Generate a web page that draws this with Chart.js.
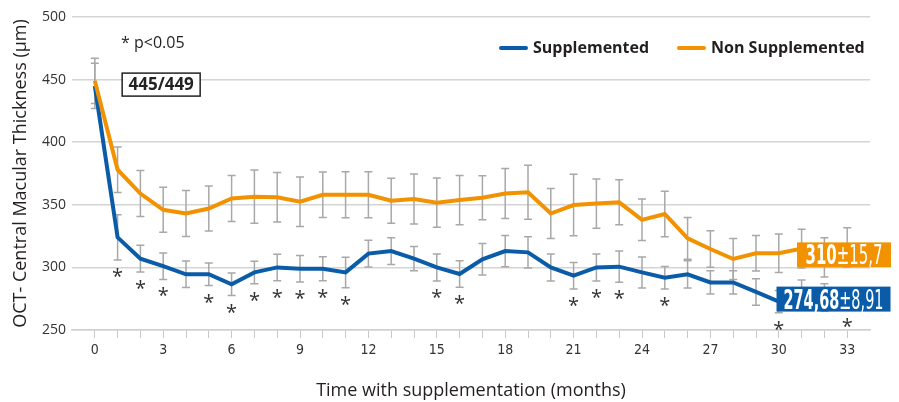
<!DOCTYPE html>
<html>
<head>
<meta charset="utf-8">
<script src="https://cdn.jsdelivr.net/npm/chart.js@4.4.0/dist/chart.umd.min.js"></script>
<style>
  html, body { margin: 0; padding: 0; background: #fff; }
</style>
</head>
<body>
<canvas id="graficoEspessura" width="899" height="402"></canvas>
<script>
// dados
const meses = [0,1,2,3,4,5,6,7,8,9,10,11,12,13,14,15,16,17,18,19,20,21,22,23,24,25,26,27,28,29,30,31,32,33];
const rotulosX = [0,3,6,9,12,15,18,21,24,27,30,33];

const suplementado = [445,324,307,301,294.5,294.5,286.5,296,300,299,299,296,311,313,307,300,294.7,306.5,313,312,300,293.4,300,300.6,296,291.8,294.5,288,288,280.4,272.6,279,276,274.68];
const erroSuplementado = [18,18,10.6,10.6,10.6,9,9,9,10.6,10.6,9.6,12.2,10.6,10.6,9.6,10.8,10.6,12.5,12.5,12.4,10.8,10.6,10.8,12.4,12.4,9,10.9,9.3,9.3,10.6,8.9,11,11,8.91];

const naoSuplementado = [449,378,359,346,343,347,355,356.5,356,352.5,358,358,358,353.3,354.6,351.7,353.8,355.7,359,360,343,349.8,351,352,338,342.7,323.2,314.7,306.7,311.3,311.3,315,308,316];
const erroNaoSuplementado = [18,18.2,18.4,18,18.4,18,18.4,21.3,19.7,19.8,18.2,18.4,18.4,18,20,19.7,19.7,17.6,20,21.6,20,24.6,19.7,18,16.6,18.2,16.6,14.5,16.3,14.1,15.4,15.5,15.6,15.7];

// meses com p<0.05
const mesesSignificativos = [1,2,3,5,6,7,8,9,10,11,15,16,21,22,23,25,30,33];

const azul = '#0a5ca8';
const laranja = '#f39200';
const fonte = '"Open Sans", "Noto Sans", sans-serif';
const fonteEstreita = '"DejaVu Sans Condensed", "Liberation Sans Narrow", "Open Sans", sans-serif';

function larguraTexto(ctx, partes) {
  let w = 0;
  partes.forEach(p => { ctx.font = p.font; w += ctx.measureText(p.t).width; });
  return w;
}

// desenha o texto comprimido na horizontal ate caber na largura pedida
function textoCondensado(ctx, partes, x, y, largura) {
  const fator = largura / larguraTexto(ctx, partes);
  let pos = 0;
  ctx.save();
  ctx.translate(x, y);
  ctx.scale(fator, 1);
  partes.forEach(p => {
    ctx.font = p.font;
    ctx.fillText(p.t, pos, 0);
    pos += ctx.measureText(p.t).width;
  });
  ctx.restore();
}

const extras = {
  id: 'extras',
  beforeDatasetsDraw(chart) {
    const { ctx, scales: { x, y } } = chart;
    ctx.save();
    ctx.strokeStyle = '#a8a8a8';
    ctx.lineWidth = 1.5;
    [[suplementado, erroSuplementado], [naoSuplementado, erroNaoSuplementado]].forEach(([valores, erros]) => {
      meses.forEach((m, i) => {
        const px = x.getPixelForValue(m);
        const topo = y.getPixelForValue(valores[i] + erros[i]);
        const base = y.getPixelForValue(valores[i] - erros[i]);
        ctx.beginPath();
        ctx.moveTo(px, topo); ctx.lineTo(px, base);
        ctx.moveTo(px - 4, topo); ctx.lineTo(px + 4, topo);
        ctx.moveTo(px - 4, base); ctx.lineTo(px + 4, base);
        ctx.stroke();
      });
    });
    ctx.restore();
  },
  afterDraw(chart) {
    const { ctx, scales: { x, y } } = chart;
    ctx.save();

    // asteriscos
    ctx.fillStyle = '#333';
    ctx.font = '20px ' + fonte;
    ctx.textAlign = 'center';
    ctx.textBaseline = 'alphabetic';
    mesesSignificativos.forEach(m => {
      const i = meses.indexOf(m);
      const px = x.getPixelForValue(m);
      const py = y.getPixelForValue(suplementado[i] - erroSuplementado[i]);
      ctx.fillText('*', px, py + 23);
    });

    // nota p<0.05
    ctx.textAlign = 'left';
    ctx.textBaseline = 'middle';
    ctx.fillStyle = '#231f20';
    ctx.font = '16px ' + fonte;
    ctx.fillText('* p<0.05', 121, 43);

    // legenda
    ctx.lineCap = 'round';
    ctx.lineWidth = 4;
    ctx.strokeStyle = azul;
    ctx.beginPath(); ctx.moveTo(501, 48); ctx.lineTo(526, 48); ctx.stroke();
    ctx.strokeStyle = laranja;
    ctx.beginPath(); ctx.moveTo(679, 48); ctx.lineTo(704, 48); ctx.stroke();
    ctx.font = 'bold 16px ' + fonte;
    ctx.fillStyle = '#231f20';
    ctx.fillText('Supplemented', 533, 48);
    ctx.fillText('Non Supplemented', 711, 48);

    // caixa 445/449
    const bx = x.getPixelForValue(1.2);
    const by = y.getPixelForValue(446);
    ctx.lineWidth = 1.5;
    ctx.strokeStyle = '#222';
    ctx.fillStyle = '#fff';
    ctx.fillRect(bx, by - 11.5, 78, 23);
    ctx.strokeRect(bx, by - 11.5, 78, 23);
    ctx.fillStyle = '#222';
    ctx.font = 'bold 17px ' + fonte;
    ctx.textAlign = 'center';
    ctx.fillText('445/449', bx + 39, by + 1);

    // caixas dos valores finais
    const caixas = [
      { cor: laranja, mes: 30.8, valor: 310, largura: 77, folga: 8.5, partes: [
        { t: '310', font: 'bold 26px ' + fonteEstreita },
        { t: '±15,7', font: '26px ' + fonteEstreita }] },
      { cor: azul, mes: 29.9, valor: 274.68, largura: 100, folga: 7, partes: [
        { t: '274,68', font: 'bold 26px ' + fonteEstreita },
        { t: '±8,91', font: '26px ' + fonteEstreita }] }
    ];
    ctx.textAlign = 'left';
    ctx.textBaseline = 'alphabetic';
    caixas.forEach(c => {
      const cx = x.getPixelForValue(c.mes);
      const cy = y.getPixelForValue(c.valor);
      ctx.fillStyle = c.cor;
      ctx.fillRect(cx, cy - 12.5, c.largura + 2 * c.folga, 25);
      ctx.fillStyle = '#fff';
      textoCondensado(ctx, c.partes, cx + c.folga, cy + 9.5, c.largura);
    });

    ctx.restore();
  }
};

new Chart(document.getElementById('graficoEspessura'), {
  type: 'line',
  data: {
    datasets: [{
      label: 'Supplemented',
      data: meses.map((m, i) => ({ x: m, y: suplementado[i] })),
      borderColor: azul,
      borderWidth: 4,
      pointRadius: 0,
      tension: 0,
      order: 2
    }, {
      label: 'Non Supplemented',
      data: meses.map((m, i) => ({ x: m, y: naoSuplementado[i] })),
      borderColor: laranja,
      borderWidth: 4,
      pointRadius: 0,
      tension: 0,
      order: 1
    }]
  },
  options: {
    responsive: false,
    animation: false,
    layout: { padding: { top: 17, right: 29, left: 0, bottom: 0 } },
    plugins: {
      legend: { display: false },
      tooltip: { enabled: false }
    },
    scales: {
      x: {
        type: 'linear',
        min: -1,
        max: 34,
        afterFit: s => { s.height = 72; },
        afterBuildTicks: s => {
          s.ticks = meses.map(m => ({ value: m }));
        },
        ticks: {
          autoSkip: false,
          maxRotation: 0,
          padding: 4,
          color: '#333',
          font: { family: fonteEstreita, size: 14 },
          callback: v => rotulosX.includes(v) ? String(v) : ''
        },
        grid: {
          drawOnChartArea: false,
          drawTicks: true,
          tickLength: 8,
          color: '#c8c8c8'
        },
        border: { display: true, color: '#d0d0d0', width: 1.5 },
        title: {
          display: true,
          text: 'Time with supplementation (months)',
          color: '#231f20',
          font: { family: fonte, size: 18 },
          padding: { top: 0, bottom: 0 }
        }
      },
      y: {
        min: 250,
        max: 500,
        afterFit: s => { s.width = 72; },
        ticks: {
          stepSize: 50,
          padding: 6,
          color: '#333',
          font: { family: fonte, size: 14 }
        },
        grid: {
          color: '#d4d4d4',
          lineWidth: 1.5,
          drawTicks: false
        },
        border: { display: false },
        title: {
          display: true,
          text: 'OCT- Central Macular Thickness (µm)',
          color: '#231f20',
          font: { family: fonte, size: 18 },
          padding: { top: 10, bottom: 0 }
        }
      }
    }
  },
  plugins: [extras]
});
</script>
</body>
</html>
